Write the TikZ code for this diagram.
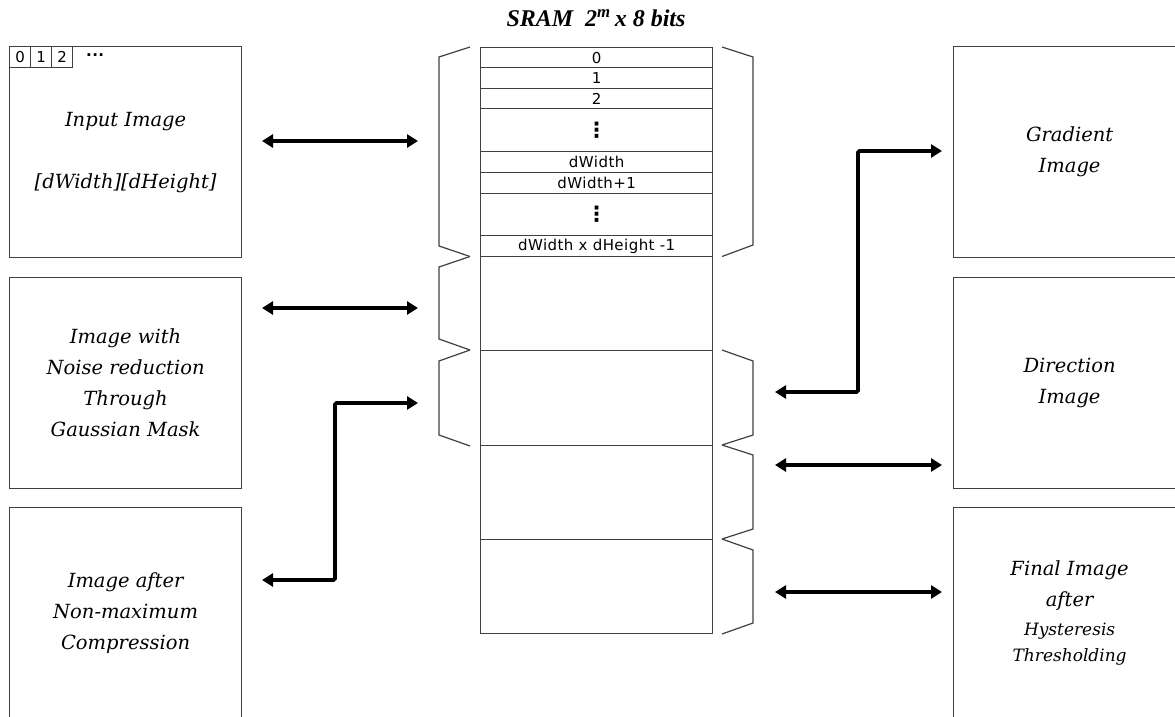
\documentclass[tikz,border=0pt]{standalone}
\usepackage{fontspec}
\usetikzlibrary{arrows.meta}
\newfontfamily\boxfont{DejaVu Serif}
\newfontfamily\memfont[LetterSpace=3]{DejaVu Sans}
\newfontfamily\titlefont{Liberation Serif}
\definecolor{linegray}{HTML}{404040}
\tikzset{
  imgbox/.style={draw=linegray, line width=1.2pt, minimum width=232pt, minimum height=211pt,
    inner sep=0pt, anchor=north west, align=center,
    font=\boxfont\itshape\fontsize{19.5}{31}\selectfont},
  memrow/.style={draw=linegray, line width=1.3pt, minimum width=232pt, inner sep=0pt,
    anchor=north west, font=\memfont\fontsize{15}{17}\selectfont},
  cell/.style={draw=linegray, line width=1.1pt, minimum width=21pt, minimum height=21pt,
    inner sep=0pt, anchor=north west, font=\memfont\fontsize{15}{17}\selectfont},
  brace/.style={draw=linegray, line width=1.2pt},
  link/.style={line width=3.8pt, rounded corners=1.5pt,
    {Triangle[length=11pt,width=13pt]}-{Triangle[length=11pt,width=13pt]}}
}
\newcommand{\memdots}{{\fontsize{21}{21}\selectfont\bfseries ⋮}}
\begin{document}
\begin{tikzpicture}[x=1pt,y=-1pt]
\useasboundingbox (0,0) rectangle (1175,717);
\clip (0,0) rectangle (1175,717);

% title
\node[font=\titlefont\bfseries\itshape\fontsize{24}{26}\selectfont] (title) at (596,18)
  {SRAM\ \ 2\textsuperscript{m}\,x 8 bits};

% left image boxes
\node[imgbox] (inimg) at (9,46) {Input Image\\[31pt][dWidth][dHeight]};
\node[cell] (c0) at (9,46) {0};
\node[cell] (c1) at (30,46) {1};
\node[cell] (c2) at (51,46) {2};
\node[font=\memfont\bfseries\fontsize{15}{17}\selectfont, anchor=west, inner sep=0pt] (cdots) at (86,55) {...};
\node[imgbox] (noise) at (9,277) {Image with\\Noise reduction\\Through\\Gaussian Mask};
\node[imgbox] (nonmax) at (9,507) {Image after\\Non-maximum\\Compression};

% right image boxes
\node[imgbox] (grad) at (953,46) {Gradient\\Image};
\node[imgbox] (dir) at (953,277) {Direction\\Image};
\node[imgbox] (final) at (953,507) {Final Image\\after\\[-2pt]{\fontsize{17}{26}\selectfont Hysteresis}\\[-5pt]{\fontsize{17}{26}\selectfont Thresholding}};

% memory column
\node[memrow, minimum height=20pt] (r0) at (480,47) {0};
\node[memrow, minimum height=21pt] (r1) at (480,67) {1};
\node[memrow, minimum height=20pt] (r2) at (480,88) {2};
\node[memrow, minimum height=43pt] (rd1) at (480,108) {\memdots};
\node[memrow, minimum height=21pt] (rw) at (480,151) {dWidth};
\node[memrow, minimum height=21pt] (rw1) at (480,172) {dWidth+1};
\node[memrow, minimum height=42pt] (rd2) at (480,193) {\memdots};
\node[memrow, minimum height=21pt] (rl) at (480,235) {dWidth x dHeight -1};
\node[memrow, minimum height=94pt] (m1) at (480,256) {};
\node[memrow, minimum height=95pt] (m2) at (480,350) {};
\node[memrow, minimum height=94pt] (m3) at (480,445) {};
\node[memrow, minimum height=94pt] (m4) at (480,539) {};

% left braces
\draw[brace] (470,47) -- (439,57) -- (439,246) -- (470,256.5);
\draw[brace] (470,256.5) -- (439,267) -- (439,339) -- (470,350);
\draw[brace] (470,350) -- (439,361) -- (439,435) -- (470,446);
% right braces
\draw[brace] (722,47) -- (753,57) -- (753,245) -- (722,256.5);
\draw[brace] (722,350) -- (753,361) -- (753,435) -- (722,445);
\draw[brace] (722,445) -- (753,455) -- (753,529) -- (722,539);
\draw[brace] (722,539) -- (753,550) -- (753,623) -- (722,634);

% connector ends
\coordinate (a1l) at (262,141);  \coordinate (a1r) at (418,141);
\coordinate (a2l) at (262,308);  \coordinate (a2r) at (418,308);
\coordinate (a3l) at (262,580);  \coordinate (a3r) at (418,403);
\coordinate (b1l) at (775,392);  \coordinate (b1r) at (942,151);
\coordinate (b2l) at (775,465);  \coordinate (b2r) at (942,465);
\coordinate (b3l) at (775,592);  \coordinate (b3r) at (942,592);

\draw[link] (a1l) -- (a1r);
\draw[link] (a2l) -- (a2r);
\draw[link] (a3l) -- (335,580) -- (335,403) -- (a3r);
\draw[link] (b1l) -- (858,392) -- (858,151) -- (b1r);
\draw[link] (b2l) -- (b2r);
\draw[link] (b3l) -- (b3r);
\end{tikzpicture}
\end{document}
